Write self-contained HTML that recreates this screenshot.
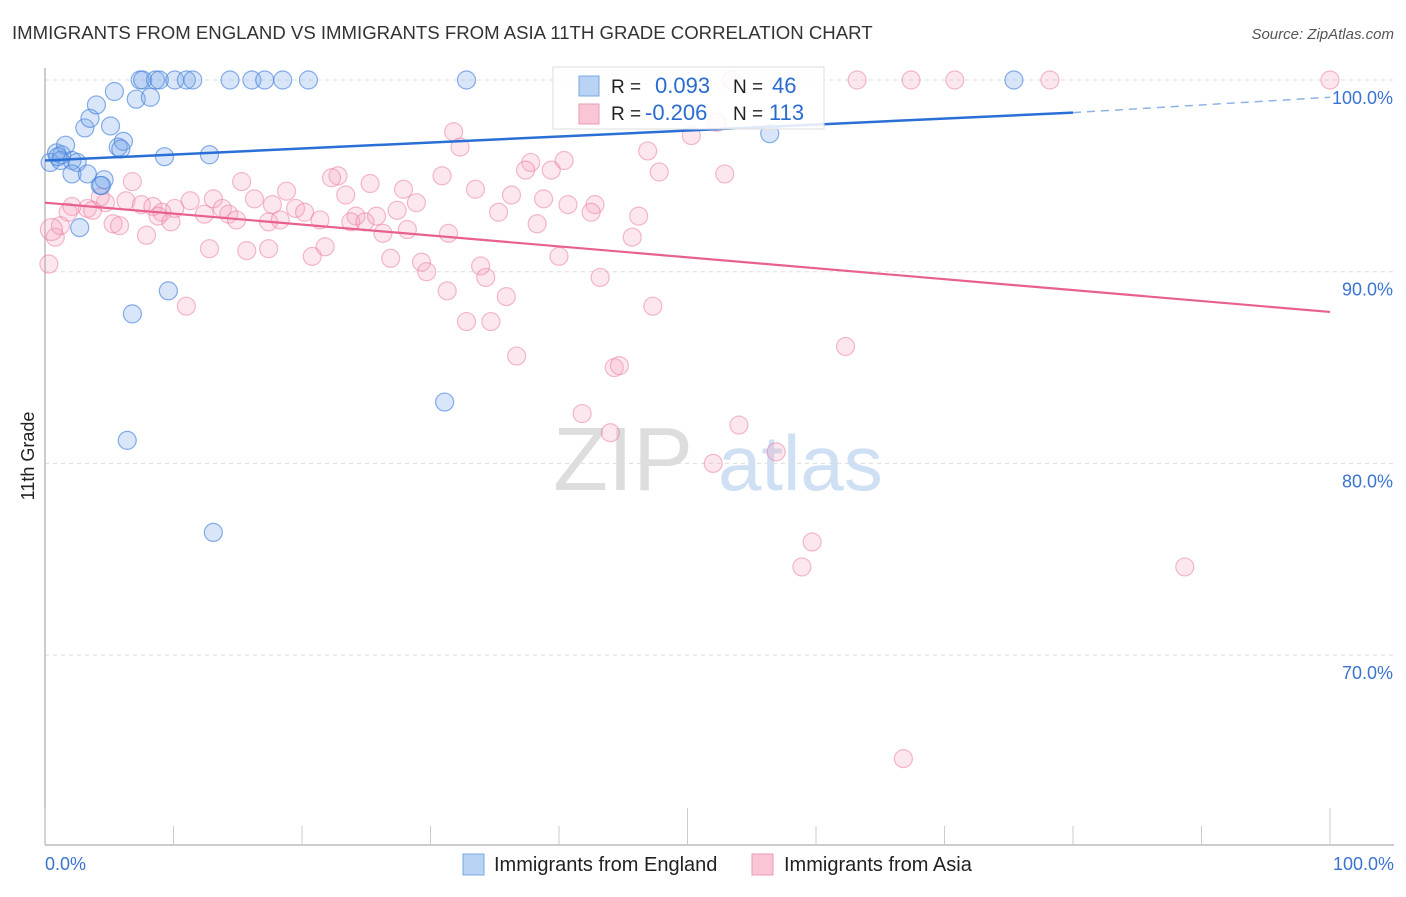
<!DOCTYPE html>
<html><head><meta charset="utf-8"><style>
body{margin:0;background:#fff;font-family:"Liberation Sans",sans-serif}
svg text{font-family:"Liberation Sans",sans-serif}
</style></head><body>
<svg id="c" width="1406" height="892" xmlns="http://www.w3.org/2000/svg">
<text x="12" y="39" font-size="18.6" fill="#333">IMMIGRANTS FROM ENGLAND VS IMMIGRANTS FROM ASIA 11TH GRADE CORRELATION CHART</text>
<text x="1394" y="39" font-size="15" fill="#555" font-style="italic" text-anchor="end">Source: ZipAtlas.com</text>
<text x="34" y="456" font-size="18" fill="#222" transform="rotate(-90 34 456)" text-anchor="middle">11th Grade</text>
<g><text x="553" y="490" font-size="90" fill="#ddd" font-family="Liberation Serif">ZIP</text><text x="718" y="490" font-size="78" fill="#cfe0f4">atlas</text></g>
<g id="grid"></g><g id="axes"></g><g id="pts"></g><g id="trend"></g>
<g>
<rect x="553" y="67" width="271" height="62" fill="#fff" fill-opacity="0.85" stroke="#ddd"/>
<rect x="579" y="76" width="20" height="20" fill="#b9d3f5" stroke="#7aa7e6"/>
<rect x="579" y="104" width="20" height="20" fill="#fac6d5" stroke="#ef9ab5"/>
<text x="611" y="93" font-size="19" fill="#222">R = </text><text x="655" y="93" font-size="22" fill="#2a6bd0">0.093</text>
<text x="733" y="93" font-size="19" fill="#222">N = </text><text x="772" y="93" font-size="22" fill="#2a6bd0">46</text>
<text x="611" y="120" font-size="19" fill="#222">R = </text><text x="645" y="120" font-size="22" fill="#2a6bd0">-0.206</text>
<text x="733" y="120" font-size="19" fill="#222">N = </text><text x="769" y="120" font-size="22" fill="#2a6bd0">113</text>
</g>
<g>
<rect x="463" y="854" width="21" height="21" fill="#b9d3f5" stroke="#7aa7e6"/>
<text x="494" y="871" font-size="20" fill="#222">Immigrants from England</text>
<rect x="752" y="854" width="21" height="21" fill="#fac6d5" stroke="#ef9ab5"/>
<text x="784" y="871" font-size="20" fill="#222">Immigrants from Asia</text>
</g>
</svg>
<script>
const yTicks=[100,90,80,70];
const yTickLabels=["100.0%","90.0%","80.0%","70.0%"];
const xTicks=[0,10,20,30,40,50,60,70,80,90,100];
const xEndLabels=["0.0%","100.0%"];
const englandX=[0.4,0.9,1.3,1.6,2.1,2.5,2.1,3.3,3.1,3.5,4.0,4.3,4.6,5.1,5.4,5.7,6.1,7.1,7.4,7.6,8.2,8.6,8.9,9.3,10.1,11.0,11.5,12.8,14.4,16.1,17.1,18.5,20.5,32.8,56.4,75.4,2.7,9.6,6.8,6.4,13.1,31.1,1.2,4.4,5.9,1.0];
const englandY=[95.7,96.2,96.1,96.6,95.8,95.7,95.1,95.1,97.5,98.0,98.7,94.5,94.8,97.6,99.4,96.5,96.8,99.0,100,100,99.1,100,100,96.0,100,100,100,96.1,100,100,100,100,100,100,97.2,100,92.3,89.0,87.8,81.2,76.4,83.2,95.8,94.5,96.4,96.0];
const asiaX=[53.4,63.2,67.4,70.8,78.2,100,52.3,31.8,32.3,50.3,46.9,37.8,37.4,40.4,39.4,47.8,52.9,22.8,22.3,30.9,25.3,15.3,6.8,27.9,18.8,33.5,36.3,38.8,23.4,16.3,13.1,11.3,28.9,40.7,42.8,6.3,4.7,4.3,7.5,8.4,10.1,2.1,3.3,3.7,1.8,13.8,17.7,19.5,20.2,27.4,35.3,42.5,46.2,9.1,8.8,9.8,14.3,14.9,12.4,17.4,18.3,21.4,24.2,23.8,24.9,25.8,28.2,31.4,26.3,38.3,45.7,5.3,5.8,7.9,0.8,1.2,0.3,12.8,15.7,17.4,21.8,20.8,26.9,29.3,29.7,33.9,34.3,40.0,43.2,31.3,35.9,11.0,32.8,34.7,47.3,36.7,44.3,44.7,62.3,41.8,44.0,54.0,52.0,56.9,59.7,58.9,88.7,66.8,0.5];
const asiaY=[100,100,100,100,100,100,97.8,97.3,96.5,97.1,96.3,95.7,95.3,95.8,95.3,95.2,95.1,95.0,94.9,95.0,94.6,94.7,94.7,94.3,94.2,94.3,94.0,93.8,94.0,93.8,93.8,93.7,93.6,93.5,93.5,93.7,93.6,93.9,93.5,93.4,93.3,93.4,93.3,93.2,93.1,93.3,93.5,93.3,93.1,93.2,93.1,93.1,92.9,93.1,92.9,92.6,93.0,92.7,93.0,92.6,92.7,92.7,92.9,92.6,92.6,92.9,92.2,92.0,92.0,92.5,91.8,92.5,92.4,91.9,91.8,92.4,90.4,91.2,91.1,91.2,91.3,90.8,90.7,90.5,90.0,90.3,89.7,90.8,89.7,89.0,88.7,88.2,87.4,87.4,88.2,85.6,85.0,85.1,86.1,82.6,81.6,82.0,80.0,80.6,75.9,74.6,74.6,64.6,92.2];
const englandTrend=[[0,95.8],[80,98.3],[100,99.1]];
const asiaTrend=[[0,93.6],[100,87.9]];
const NS="http://www.w3.org/2000/svg";
const X=v=>45+v*12.85, Y=v=>80+(100-v)*19.17;
function mk(tag,attrs,parent){const e=document.createElementNS(NS,tag);for(const k in attrs)e.setAttribute(k,attrs[k]);document.getElementById(parent).appendChild(e);return e;}
yTicks.forEach((t,i)=>{
 const l=mk('line',{x1:45,x2:1394,y1:Y(t),y2:Y(t),stroke:'#ddd','stroke-dasharray':'4,4'},'grid');
 
 
 const tx=mk('text',{x:1393,y:Y(t)+24,'font-size':18,fill:'#3a73d0','text-anchor':'end'},'grid');
 tx.textContent=yTickLabels[i];
 
 
});
const ax=mk('line',{x1:45,x2:1394,y1:845,y2:845,stroke:'#bbb','stroke-width':1.5},'axes');


const ay=mk('line',{x1:45,x2:45,y1:68,y2:845,stroke:'#bbb','stroke-width':1.5},'axes');


xTicks.forEach(t=>{
 const l=mk('line',{x1:X(t),x2:X(t),y1:(t%50===0?808:826),y2:845,stroke:'#ccc'},'axes');
 
 
});
[[0,'start',45],[100,'end',1394]].forEach((d,i)=>{
 const tx=mk('text',{x:d[2],y:870,'font-size':18,fill:'#3a73d0','text-anchor':d[1]},'axes');
 tx.textContent=xEndLabels[i];
 
 
});
asiaX.forEach((v,i)=>{
 const c=mk('circle',{cx:X(v),cy:Y(asiaY[i]),r:i===asiaX.length-1?11:9,fill:'rgba(246,160,188,0.25)',stroke:'rgba(232,120,155,0.5)','stroke-width':1.2},'pts');
 
 
});
englandX.forEach((v,i)=>{
 const c=mk('circle',{cx:X(v),cy:Y(englandY[i]),r:9,fill:'rgba(120,165,235,0.28)',stroke:'rgba(70,130,220,0.65)','stroke-width':1.2},'pts');
 
 
});
const t1=mk('line',{x1:X(englandTrend[0][0]),y1:Y(englandTrend[0][1]),x2:X(englandTrend[1][0]),y2:Y(englandTrend[1][1]),stroke:'#2a6fd6','stroke-width':2.5},'trend');


const t2=mk('line',{x1:X(englandTrend[1][0]),y1:Y(englandTrend[1][1]),x2:X(englandTrend[2][0]),y2:Y(englandTrend[2][1]),stroke:'#8fb3e8','stroke-width':1.5,'stroke-dasharray':'8,6'},'trend');


const t3=mk('line',{x1:X(asiaTrend[0][0]),y1:Y(asiaTrend[0][1]),x2:X(asiaTrend[1][0]),y2:Y(asiaTrend[1][1]),stroke:'#e8608e','stroke-width':2.2},'trend');


</script>
</body></html>
